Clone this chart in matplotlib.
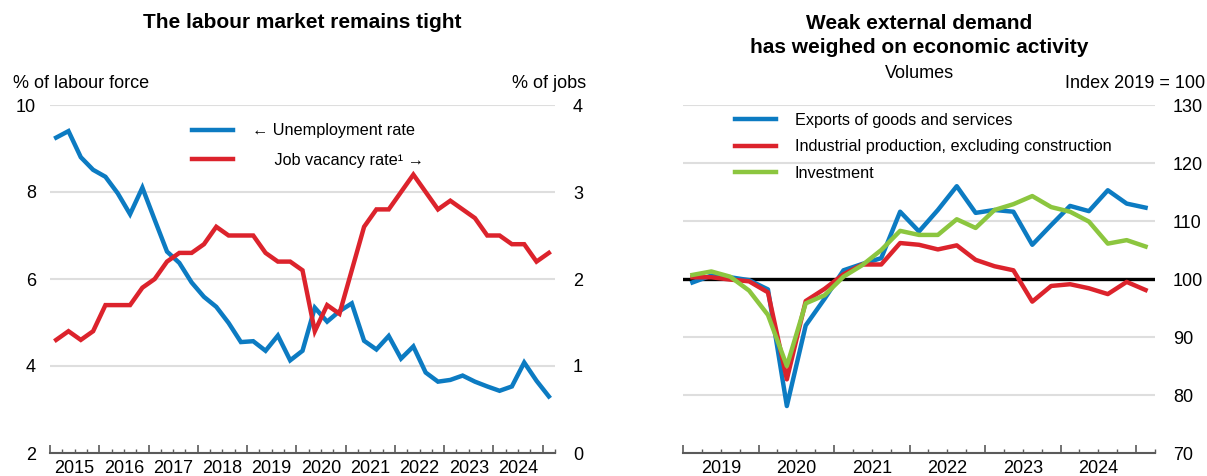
import numpy as np
import pandas as pd
import matplotlib
matplotlib.use("Agg")
import matplotlib.pyplot as plt
from matplotlib.ticker import MultipleLocator, FixedLocator
from matplotlib.transforms import blended_transform_factory

plt.rcParams["font.family"] = ["Liberation Sans", "DejaVu Sans"]

# ── Data (quarterly) ─────────────────────────────────────
left_quarters = pd.period_range("2015Q1", "2025Q1", freq="Q")
unemployment = [9.25, 9.40, 8.80, 8.51, 8.35, 7.97, 7.49, 8.10, 7.36, 6.63,
                6.37, 5.92, 5.59, 5.36, 4.99, 4.55, 4.57, 4.35, 4.70, 4.13,
                4.35, 5.34, 5.02, 5.26, 5.44, 4.58, 4.38, 4.69, 4.17, 4.45,
                3.85, 3.64, 3.68, 3.78, 3.64, 3.53, 3.43, 3.53, 4.08, 3.66,
                3.30]
vacancy = [1.3, 1.4, 1.3, 1.4, 1.7, 1.7, 1.7, 1.9, 2.0, 2.2,
           2.3, 2.3, 2.4, 2.6, 2.5, 2.5, 2.5, 2.3, 2.2, 2.2,
           2.1, 1.4, 1.7, 1.6, 2.1, 2.6, 2.8, 2.8, 3.0, 3.2,
           3.0, 2.8, 2.9, 2.8, 2.7, 2.5, 2.5, 2.4, 2.4, 2.2,
           2.3]

right_quarters = pd.period_range("2019Q1", "2025Q1", freq="Q")
exports = [99.4, 100.6, 100.3, 99.8, 98.2, 78.1, 92.0, 96.6, 101.5, 102.6,
           103.6, 111.6, 108.2, 111.9, 116.0, 111.4, 111.9, 111.6, 105.9, 109.3,
           112.6, 111.7, 115.3, 113.0, 112.3]
industrial = [100.3, 100.3, 99.9, 99.6, 97.7, 82.7, 96.2, 98.3, 100.8, 102.5,
              102.5, 106.2, 105.9, 105.1, 105.8, 103.3, 102.2, 101.5, 96.1, 98.8,
              99.1, 98.4, 97.4, 99.5, 98.1]
investment = [100.7, 101.3, 100.4, 98.0, 93.8, 85.0, 95.8, 97.2, 100.4, 102.4,
              105.0, 108.3, 107.6, 107.6, 110.3, 108.8, 111.9, 112.9, 114.3, 112.4,
              111.6, 109.9, 106.1, 106.7, 105.6]

left_years = list(range(2015, 2025))
right_years = list(range(2019, 2025))

BLUE = "#0C7BC2"
RED = "#DC232C"
GREEN = "#8CC63F"
GRID = "#DEDEDE"
AXIS = "#5A5A5A"
FS = 13        # ticks and unit labels
LFS = 11.7     # legend entries
LW = 3.2


def qpos(periods):
    # middle of each quarter, in decimal years
    return periods.year + (periods.quarter - 1) * 0.25 + 0.125


def style_x(ax, start, years):
    ax.set_xlim(start, 2025.25)
    ax.xaxis.set_major_locator(MultipleLocator(1))
    ax.xaxis.set_minor_locator(MultipleLocator(0.25))
    ax.tick_params(axis="x", which="major", direction="in", length=6,
                   width=1.2, color=AXIS, labelbottom=False)
    ax.tick_params(axis="x", which="minor", direction="in", length=3,
                   width=1.0, color=AXIS)
    for s in ["top", "left", "right"]:
        ax.spines[s].set_visible(False)
    ax.spines["bottom"].set_color(AXIS)
    ax.spines["bottom"].set_linewidth(1.5)
    trans = blended_transform_factory(ax.transData, ax.transAxes)
    for y in years:
        ax.text(y + 0.5, -0.045, str(y), transform=trans, ha="center",
                va="center", fontsize=FS)


W, H = 1207, 476
fig = plt.figure(figsize=(W / 100, H / 100), dpi=100)

# ── Left panel: labour market ───────────────────────────
axL = fig.add_axes([50 / W, 23 / H, 505 / W, 348 / H])
axL2 = axL.twinx()

xl = qpos(left_quarters)
l1, = axL.plot(xl, unemployment, color=BLUE, lw=LW, solid_joinstyle="miter")
l2, = axL2.plot(xl, vacancy, color=RED, lw=LW, solid_joinstyle="miter")

axL.set_ylim(2, 10)
axL.yaxis.set_major_locator(FixedLocator([2, 4, 6, 8, 10]))
axL.tick_params(axis="y", length=0, pad=10, labelsize=FS)
axL.yaxis.grid(True, color=GRID, lw=1.5)
axL.set_axisbelow(True)
axL2.set_ylim(0, 4)
axL2.yaxis.set_major_locator(FixedLocator([0, 1, 2, 3, 4]))
axL2.tick_params(axis="y", length=0, pad=13, labelsize=FS)
for s in axL2.spines.values():
    s.set_visible(False)
style_x(axL, 2015, left_years)

axL2.legend([l1, l2], ["← Unemployment rate", "     Job vacancy rate¹ →"],
            loc="upper left", bbox_to_anchor=(0.281, 0.947), frameon=False,
            fontsize=LFS, handlelength=2.5, handletextpad=1.2,
            labelspacing=0.87, borderpad=0, borderaxespad=0)

# ── Right panel: activity ───────────────────────────────
axR = fig.add_axes([683 / W, 23 / H, 472 / W, 348 / H])
xr = qpos(right_quarters)
axR.axhline(100, color="black", lw=2.4, zorder=1.5)
axR.plot(xr, exports, color=BLUE, lw=LW, label="Exports of goods and services")
axR.plot(xr, industrial, color=RED, lw=LW,
         label="Industrial production, excluding construction")
axR.plot(xr, investment, color=GREEN, lw=LW, label="Investment")

axR.set_ylim(70, 130)
axR.yaxis.set_major_locator(MultipleLocator(10))
axR.yaxis.tick_right()
axR.tick_params(axis="y", length=0, pad=13, labelsize=FS)
axR.yaxis.grid(True, color=GRID, lw=1.5)
axR.set_axisbelow(True)
style_x(axR, 2019, right_years)

axR.legend(loc="upper left", bbox_to_anchor=(0.11, 0.978), frameon=False,
           fontsize=LFS, handlelength=2.5, handletextpad=1.17,
           labelspacing=0.71, borderpad=0, borderaxespad=0)

# ── Titles and unit labels ──────────────────────────────
fig.text(302 / W, 1 - 23 / H, "The labour market remains tight",
         ha="center", va="center", fontsize=15, fontweight="bold")
fig.text(919 / W, 1 - 14 / H, "Weak external demand\nhas weighed on economic activity",
         ha="center", va="top", fontsize=15, fontweight="bold", linespacing=1.32)
fig.text(919 / W, 1 - 73 / H, "Volumes", ha="center", va="center", fontsize=FS)

fig.text(13 / W, 1 - 83 / H, "% of labour force", ha="left", va="center", fontsize=FS)
fig.text(586 / W, 1 - 83 / H, "% of jobs", ha="right", va="center", fontsize=FS)
fig.text(1205 / W, 1 - 83 / H, "Index 2019 = 100", ha="right", va="center", fontsize=FS)

fig.savefig("out.png", dpi=100)
